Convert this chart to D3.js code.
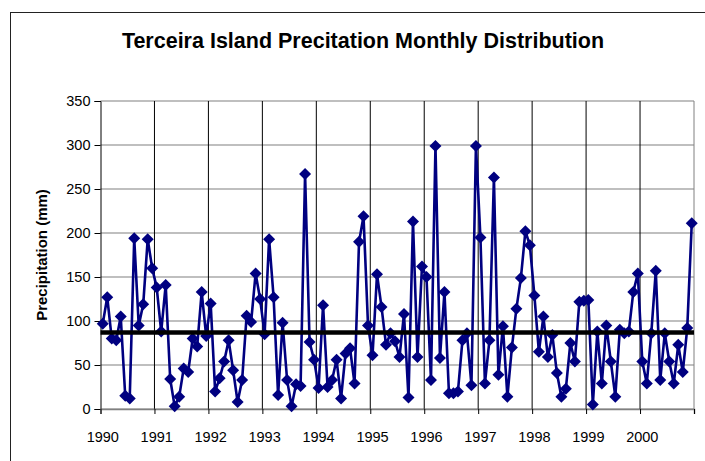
<!DOCTYPE html>
<html>
<head>
<meta charset="utf-8">
<script src="https://cdn.jsdelivr.net/npm/d3@7"></script>
<style>
  body { margin: 0; background: #fff; }
  svg { font-family: "Liberation Sans", Arial, sans-serif; }
</style>
</head>
<body>
<svg id="chart" width="705" height="461"></svg>
<script>
// monthly precipitation (mm), Jan..Dec
const years = ["1990", "1991", "1992", "1993", "1994", "1995", "1996", "1997", "1998", "1999", "2000"];
const p1990 = [97, 127, 80, 78, 105, 15, 12, 194, 95, 119, 193, 160];
const p1991 = [138, 88, 141, 34, 3, 14, 46, 42, 80, 71, 133, 83];
const p1992 = [120, 20, 35, 54, 78, 44, 8, 33, 106, 99, 154, 125];
const p1993 = [85, 193, 127, 16, 98, 33, 3, 28, 26, 267, 76, 56];
const p1994 = [24, 118, 25, 33, 56, 12, 63, 69, 29, 190, 219, 95];
const p1995 = [61, 153, 116, 73, 86, 77, 59, 108, 13, 213, 59, 162];
const p1996 = [150, 33, 299, 58, 133, 18, 18, 20, 78, 86, 27, 299];
const p1997 = [195, 29, 78, 263, 39, 94, 14, 70, 114, 149, 202, 186];
const p1998 = [129, 65, 105, 59, 84, 41, 14, 23, 75, 54, 122, 123];
const p1999 = [124, 5, 88, 29, 95, 54, 14, 90, 86, 88, 133, 154];
const p2000 = [54, 29, 86, 157, 33, 86, 54, 29, 73, 42, 92, 211];
const meanValue = 87;
const yTicks = [0, 50, 100, 150, 200, 250, 300, 350];

const values = [].concat(p1990, p1991, p1992, p1993, p1994, p1995, p1996, p1997, p1998, p1999, p2000);

const svg = d3.select("#chart");
const margin = { top: 101, right: 11, bottom: 52, left: 100.5 };
const width = 705 - margin.left - margin.right;
const height = 461 - margin.top - margin.bottom;

// chart area border
svg.append("rect")
  .attr("x", 10.5).attr("y", 12.5)
  .attr("width", 720).attr("height", 470)
  .attr("fill", "#fff").attr("stroke", "#222").attr("stroke-width", 1);

svg.append("text")
  .attr("x", 363).attr("y", 48)
  .attr("text-anchor", "middle")
  .attr("font-size", "21.5px").attr("font-weight", "bold")
  .text("Terceira Island Precitation Monthly Distribution");

const g = svg.append("g").attr("transform", "translate(" + margin.left + "," + margin.top + ")");

const x = d3.scaleBand().domain(d3.range(values.length)).range([0, width]);
const xEdge = d3.scaleLinear().domain([0, values.length]).range([0, width]);
const y = d3.scaleLinear().domain([0, 350]).range([height, 0]);
const cx = i => x(i) + x.bandwidth() / 2;

// horizontal gridlines
g.append("g")
  .selectAll("line")
  .data(yTicks)
  .join("line")
  .attr("x1", 0).attr("x2", width)
  .attr("y1", d => y(d)).attr("y2", d => y(d))
  .attr("stroke", "#808080").attr("stroke-width", 1.2);

// vertical gridlines at year boundaries
const yearEdges = d3.range(12, values.length + 1, 12);
g.append("g")
  .selectAll("line")
  .data(yearEdges)
  .join("line")
  .attr("x1", d => xEdge(d)).attr("x2", d => xEdge(d))
  .attr("y1", 0).attr("y2", height)
  .attr("stroke", d => d === values.length ? "#808080" : "#000")
  .attr("stroke-width", 1);

// y axis
const yAxis = g.append("g")
  .call(d3.axisLeft(y).tickValues(yTicks).tickSize(6).tickPadding(4));
yAxis.select(".domain").attr("stroke", "#000");
yAxis.selectAll("text").attr("font-size", "14.5px").attr("fill", "#000").attr("font-family", "Liberation Sans, Arial, sans-serif");

// x axis: tick marks at year edges, labels at first month of year
const xTickAxis = g.append("g")
  .attr("transform", "translate(0," + height + ")")
  .call(d3.axisBottom(xEdge).tickValues(d3.range(0, values.length + 1, 12)).tickSize(5).tickFormat(""));
xTickAxis.select(".domain").attr("stroke", "#808080").attr("stroke-width", 1.5);
xTickAxis.selectAll(".tick line").attr("stroke", "#000");

g.append("g")
  .attr("transform", "translate(0," + height + ")")
  .selectAll("text")
  .data(years)
  .join("text")
  .attr("x", (d, k) => cx(k * 12))
  .attr("y", 33)
  .attr("text-anchor", "middle")
  .attr("font-size", "14.5px")
  .text(d => d);

// y axis title
svg.append("text")
  .attr("transform", "translate(47," + (margin.top + height / 2) + ") rotate(-90)")
  .attr("text-anchor", "middle")
  .attr("font-size", "15px").attr("font-weight", "bold")
  .text("Precipitation (mm)");

// precipitation series
g.append("path")
  .datum(values)
  .attr("fill", "none")
  .attr("stroke", "#000080")
  .attr("stroke-width", 2.6)
  .attr("d", d3.line().x((d, i) => cx(i)).y(d => y(d)));

g.append("g")
  .selectAll("path")
  .data(values)
  .join("path")
  .attr("transform", (d, i) => "translate(" + cx(i) + "," + y(d) + ") rotate(45)")
  .attr("d", d3.symbol().type(d3.symbolSquare).size(72))
  .attr("fill", "#000080");

// mean line
g.append("line")
  .attr("x1", cx(0)).attr("x2", cx(values.length - 1))
  .attr("y1", y(meanValue)).attr("y2", y(meanValue))
  .attr("stroke", "#000").attr("stroke-width", 4.5)
  .attr("stroke-linecap", "square");
</script>
</body>
</html>
